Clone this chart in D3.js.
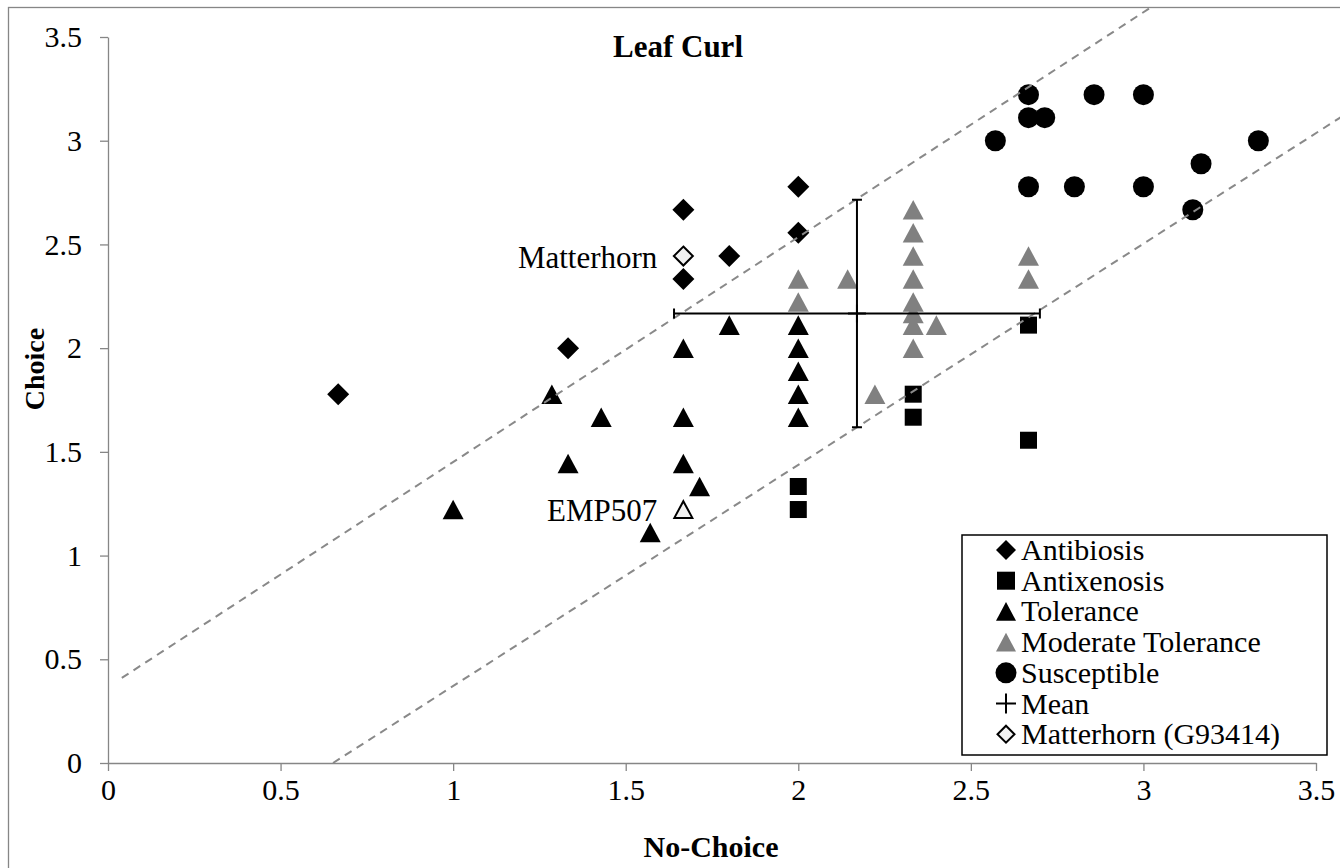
<!DOCTYPE html>
<html>
<head>
<meta charset="utf-8">
<script src="https://cdn.jsdelivr.net/npm/d3@7"></script>
<style>
  body { margin: 0; background: #fff; }
</style>
</head>
<body>
<div id="chart"></div>
<script>
// data: [No-Choice, Choice]
const antibiosis = [[0.667, 1.778], [1.333, 2.0], [1.667, 2.667], [1.667, 2.333], [1.8, 2.444], [2.0, 2.778], [2.0, 2.556]];
const antixenosis = [[2.0, 1.333], [2.0, 1.222], [2.333, 1.778], [2.333, 1.667], [2.667, 2.111], [2.667, 1.556]];
const tolerance = [[1.0, 1.222], [1.286, 1.778], [1.333, 1.444], [1.429, 1.667], [1.571, 1.111], [1.667, 2.0],
  [1.667, 1.667], [1.667, 1.444], [1.714, 1.333], [1.8, 2.111], [2.0, 2.111], [2.0, 2.0], [2.0, 1.889],
  [2.0, 1.778], [2.0, 1.667]];
const moderateTolerance = [[2.0, 2.333], [2.0, 2.222], [2.143, 2.333], [2.222, 1.778], [2.333, 2.667], [2.333, 2.556],
  [2.333, 2.444], [2.333, 2.333], [2.333, 2.222], [2.333, 2.167], [2.333, 2.111], [2.333, 2.0], [2.4, 2.111],
  [2.667, 2.444], [2.667, 2.333]];
const susceptible = [[2.571, 3.0], [2.667, 3.222], [2.667, 3.111], [2.667, 2.778], [2.714, 3.111], [2.8, 2.778],
  [2.857, 3.222], [3.0, 3.222], [3.0, 2.778], [3.143, 2.667], [3.167, 2.889], [3.333, 3.0]];
const meanPoint = [2.17, 2.167];
const meanErr = [0.53, 0.548];
const matterhorn = [1.667, 2.444];
const emp507 = [1.667, 1.222];
const upperLine = [[0.04, 0.41], [3.6, 4.27]];
const lowerLine = [[0.652, 0.0], [3.7, 3.25]];
const xTicks = [0, 0.5, 1, 1.5, 2, 2.5, 3, 3.5];
const yTicks = [0, 0.5, 1, 1.5, 2, 2.5, 3, 3.5];
const legendLabels = ["Antibiosis", "Antixenosis", "Tolerance", "Moderate Tolerance", "Susceptible", "Mean", "Matterhorn (G93414)"];

const width = 1340, height = 868;
const gray = "#868686";
const serif = '"Liberation Serif", "Times New Roman", Times, serif';

const svg = d3.select("#chart").append("svg")
  .attr("width", width)
  .attr("height", height)
  .style("font-family", serif);

svg.append("defs").append("clipPath").attr("id", "area")
  .append("rect").attr("x", 8).attr("y", 7).attr("width", 1345).attr("height", 870);

// chart border (right/bottom edges run off the picture)
svg.append("rect")
  .attr("x", 8.5).attr("y", 7.5).attr("width", 1345).attr("height", 870)
  .attr("fill", "#fff").attr("stroke", gray).attr("stroke-width", 1.3);

const x = d3.scaleLinear().domain([0, 3.5]).range([108, 1316]);
const y = d3.scaleLinear().domain([0, 3.5]).range([763, 37]);

const xAxis = svg.append("g")
  .attr("transform", "translate(0,763)")
  .call(d3.axisBottom(x).tickValues(xTicks).tickFormat(d => d).tickSize(8).tickSizeOuter(0).tickPadding(8));
const yAxis = svg.append("g")
  .attr("transform", "translate(108,0)")
  .call(d3.axisLeft(y).tickValues(yTicks).tickFormat(d => d).tickSize(8).tickSizeOuter(0).tickPadding(18));

[xAxis, yAxis].forEach(g => {
  g.attr("font-family", null).attr("font-size", null);
  g.select(".domain").attr("stroke", gray).attr("stroke-width", 1.3);
  g.selectAll(".tick line").attr("stroke", gray).attr("stroke-width", 1.3);
  g.selectAll(".tick text").style("font-size", "30px").style("font-family", serif).attr("fill", "#000");
});

// marker shapes
function marker(sel, shape, s) {
  if (shape === "diamond") {
    const r = s / 2;
    sel.append("path").attr("d", `M0,${-r}L${r},0L0,${r}L${-r},0Z`);
  } else if (shape === "square") {
    sel.append("rect").attr("x", -s / 2).attr("y", -s / 2).attr("width", s).attr("height", s);
  } else if (shape === "triangle") {
    const h = s * 0.93;
    sel.append("path").attr("d", `M0,${-h / 2}L${s / 2},${h / 2}L${-s / 2},${h / 2}Z`);
  } else if (shape === "circle") {
    sel.append("circle").attr("r", s / 2);
  } else if (shape === "plus") {
    sel.append("path").attr("d", `M${-s / 2},0H${s / 2}M0,${-s / 2}V${s / 2}`)
      .attr("stroke", "#000").attr("stroke-width", 2).attr("fill", "none");
  }
}

const series = [
  { data: antibiosis, shape: "diamond", size: 22, fill: "#000" },
  { data: antixenosis, shape: "square", size: 17, fill: "#000" },
  { data: tolerance, shape: "triangle", size: 21, fill: "#000" },
  { data: moderateTolerance, shape: "triangle", size: 21, fill: "#808080" },
  { data: susceptible, shape: "circle", size: 21, fill: "#000" }
];

series.forEach(s => {
  svg.append("g").selectAll("g")
    .data(s.data)
    .enter()
    .append("g")
    .attr("transform", d => `translate(${x(d[0])},${y(d[1])})`)
    .attr("fill", s.fill)
    .each(function () { marker(d3.select(this), s.shape, s.size); });
});

// highlighted cultivars
const hl = svg.append("g");
hl.append("g").attr("transform", `translate(${x(matterhorn[0])},${y(matterhorn[1])})`)
  .attr("fill", "#f2f2f2").attr("stroke", "#000").attr("stroke-width", 2)
  .call(g => marker(g, "diamond", 19));
hl.append("g").attr("transform", `translate(${x(emp507[0])},${y(emp507[1])})`)
  .attr("fill", "#f2f2f2").attr("stroke", "#000").attr("stroke-width", 2)
  .call(g => marker(g, "triangle", 18));

hl.append("text").attr("x", x(matterhorn[0]) - 26).attr("y", y(matterhorn[1]) + 12)
  .attr("text-anchor", "end").style("font-size", "31px").text("Matterhorn");
hl.append("text").attr("x", x(emp507[0]) - 26).attr("y", y(emp507[1]) + 11)
  .attr("text-anchor", "end").style("font-size", "31px").text("EMP507");

// dashed boundary lines
const line = d3.line().x(d => x(d[0])).y(d => y(d[1]));
svg.append("g").attr("clip-path", "url(#area)")
  .selectAll("path")
  .data([upperLine, lowerLine])
  .enter()
  .append("path")
  .attr("d", line)
  .attr("fill", "none")
  .attr("stroke", "#898989")
  .attr("stroke-width", 2)
  .attr("stroke-dasharray", "8,6");

// mean with error bars
const mx = x(meanPoint[0]), my = y(meanPoint[1]);
const x0 = x(meanPoint[0] - meanErr[0]), x1 = x(meanPoint[0] + meanErr[0]);
const y0 = y(meanPoint[1] - meanErr[1]), y1 = y(meanPoint[1] + meanErr[1]);
const eb = svg.append("g").attr("stroke", "#000").attr("stroke-width", 2).attr("fill", "none");
eb.append("path").attr("d", `M${x0},${my}H${x1}M${x0},${my - 5}V${my + 5}M${x1},${my - 5}V${my + 5}`);
eb.append("path").attr("d", `M${mx},${y1}V${y0}M${mx - 5},${y1}H${mx + 5}M${mx - 5},${y0}H${mx + 5}`);
svg.append("g").attr("transform", `translate(${mx},${my})`).call(g => marker(g, "plus", 18));

// titles
svg.append("text").attr("x", 678).attr("y", 57).attr("text-anchor", "middle")
  .style("font-size", "31px").style("font-weight", "bold").text("Leaf Curl");
svg.append("text").attr("x", 711).attr("y", 857).attr("text-anchor", "middle")
  .style("font-size", "30px").style("font-weight", "bold").text("No-Choice");
svg.append("text").attr("transform", "translate(44,369) rotate(-90)").attr("text-anchor", "middle")
  .style("font-size", "28px").style("font-weight", "bold").text("Choice");

// legend
const legend = svg.append("g");
legend.append("rect").attr("x", 962).attr("y", 535).attr("width", 365).attr("height", 220)
  .attr("fill", "#fff").attr("stroke", "#000").attr("stroke-width", 1.5);
const legendMarks = [
  { shape: "diamond", size: 20, fill: "#000", stroke: "none" },
  { shape: "square", size: 18, fill: "#000", stroke: "none" },
  { shape: "triangle", size: 20, fill: "#000", stroke: "none" },
  { shape: "triangle", size: 20, fill: "#808080", stroke: "none" },
  { shape: "circle", size: 21, fill: "#000", stroke: "none" },
  { shape: "plus", size: 20, fill: "none", stroke: "none" },
  { shape: "diamond", size: 17, fill: "#f2f2f2", stroke: "#000" }
];
legendLabels.forEach((label, i) => {
  const base = 560 + i * 30.7;
  const g = legend.append("g").attr("transform", `translate(1006,${base - 10})`)
    .attr("fill", legendMarks[i].fill);
  if (legendMarks[i].stroke !== "none") g.attr("stroke", legendMarks[i].stroke).attr("stroke-width", 2);
  marker(g, legendMarks[i].shape, legendMarks[i].size);
  legend.append("text").attr("x", 1021).attr("y", base).style("font-size", "30px").text(label);
});
</script>
</body>
</html>
